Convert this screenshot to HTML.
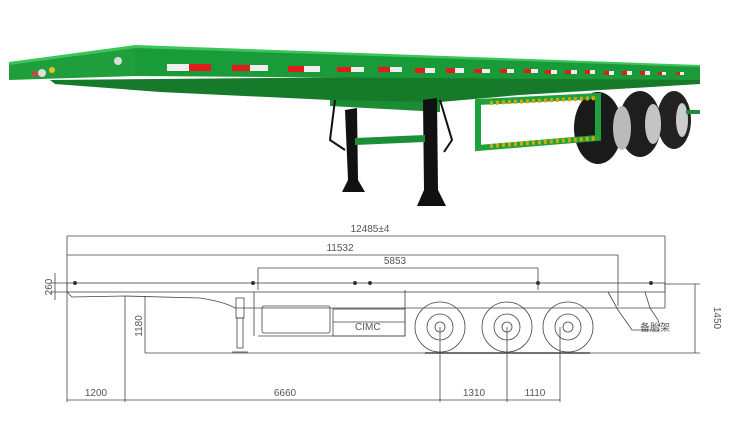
<!DOCTYPE html>
<html><head><style>
html,body{margin:0;padding:0;background:#fff;width:750px;height:434px;overflow:hidden}
svg{display:block}
text{font-family:"Liberation Sans",sans-serif;fill:#555;font-size:10px}
</style></head><body>
<svg width="750" height="434" viewBox="0 0 750 434" xmlns="http://www.w3.org/2000/svg">
<!-- PHOTO -->
<!-- underframe dark -->
<polygon points="50,80 700,74 700,84 520,95 440,102 420,108 330,100 160,92 55,84" fill="#167a2a"/>
<polygon points="330,100 440,102 440,112 330,106" fill="#1c8c34"/>
<!-- wheels -->
<ellipse cx="598" cy="128" rx="24" ry="36" fill="#1a1a1a"/>
<ellipse cx="640" cy="124" rx="21" ry="33" fill="#1e1e1e"/>
<ellipse cx="674" cy="120" rx="17" ry="29" fill="#222"/>
<ellipse cx="622" cy="128" rx="9" ry="22" fill="#bbb"/>
<ellipse cx="653" cy="124" rx="8" ry="20" fill="#c4c4c4"/>
<ellipse cx="682" cy="120" rx="6" ry="17" fill="#ccc"/>
<!-- side face of deck -->
<polygon points="135,46 700,66 700,80 135,76" fill="#1a9b3a"/>
<!-- front face -->
<polygon points="9,63 135,46 135,76 9,80" fill="#1f9f3c"/>
<!-- top edge highlight -->
<polygon points="9,62 135,45 700,65 700,67 135,48 9,65" fill="#3cc55a"/>
<!-- stripes -->
<g>
<rect x="167" y="64" width="22" height="7" fill="#eee"/><rect x="189" y="64" width="22" height="7" fill="#e31b1b"/>
<rect x="232" y="65" width="18" height="6" fill="#e31b1b"/><rect x="250" y="65" width="18" height="6" fill="#eee"/>
<rect x="288" y="66" width="16" height="6" fill="#e31b1b"/><rect x="304" y="66" width="16" height="6" fill="#eee"/>
<rect x="337" y="67" width="14" height="5" fill="#e31b1b"/><rect x="351" y="67" width="13" height="5" fill="#eee"/>
<rect x="378" y="67" width="12" height="5" fill="#e31b1b"/><rect x="390" y="67" width="12" height="5" fill="#eee"/>
<rect x="415" y="68" width="10" height="5" fill="#e31b1b"/><rect x="425" y="68" width="10" height="5" fill="#eee"/>
<rect x="446" y="68" width="9" height="5" fill="#e31b1b"/><rect x="455" y="68" width="9" height="5" fill="#eee"/>
<rect x="474" y="69" width="8" height="4" fill="#e31b1b"/><rect x="482" y="69" width="8" height="4" fill="#eee"/>
<rect x="500" y="69" width="7" height="4" fill="#e31b1b"/><rect x="507" y="69" width="7" height="4" fill="#eee"/>
<rect x="524" y="69" width="7" height="4" fill="#e31b1b"/><rect x="531" y="69" width="7" height="4" fill="#eee"/>
<rect x="545" y="70" width="6" height="4" fill="#e31b1b"/><rect x="551" y="70" width="6" height="4" fill="#eee"/>
<rect x="565" y="70" width="6" height="4" fill="#e31b1b"/><rect x="571" y="70" width="6" height="4" fill="#eee"/>
<rect x="585" y="70" width="5" height="4" fill="#e31b1b"/><rect x="590" y="70" width="5" height="4" fill="#eee"/>
<rect x="604" y="71" width="5" height="4" fill="#e31b1b"/><rect x="609" y="71" width="5" height="4" fill="#eee"/>
<rect x="622" y="71" width="5" height="4" fill="#e31b1b"/><rect x="627" y="71" width="5" height="4" fill="#eee"/>
<rect x="640" y="71" width="5" height="4" fill="#e31b1b"/><rect x="645" y="71" width="5" height="4" fill="#eee"/>
<rect x="658" y="72" width="4" height="3" fill="#e31b1b"/><rect x="662" y="72" width="4" height="3" fill="#eee"/>
<rect x="676" y="72" width="4" height="3" fill="#e31b1b"/><rect x="680" y="72" width="4" height="3" fill="#eee"/>
</g>
<circle cx="118" cy="61" r="4" fill="#ddd"/>
<circle cx="42" cy="73" r="4" fill="#ddd"/><circle cx="52" cy="70" r="3" fill="#f0c020"/><circle cx="35" cy="74" r="3" fill="#c44"/>
<!-- landing legs -->
<polygon points="345,110 357,108 358,180 365,192 342,192 348,180" fill="#111"/>
<polygon points="423,100 437,98 438,190 446,206 417,206 424,190" fill="#111"/>
<path d="M335,100 L330,140 L345,150 M440,100 L452,140 L444,152" stroke="#111" stroke-width="2" fill="none"/>
<polygon points="355,138 425,135 425,142 355,145" fill="#1a8f36"/>
<!-- guard frame -->
<g fill="none" stroke="#1fa23e" stroke-width="6">
<polygon points="478,102 598,96 598,138 478,148"/>
</g>
<line x1="490" y1="103" x2="598" y2="98" stroke="#d4a800" stroke-width="4" stroke-dasharray="3,3"/>
<line x1="490" y1="146" x2="598" y2="138" stroke="#d4a800" stroke-width="4" stroke-dasharray="3,3"/>
<rect x="686" y="110" width="14" height="4" fill="#1a8f36"/>

<!-- DRAWING -->
<g stroke="#444" stroke-width="0.8" fill="none">
<!-- dims -->
<line x1="67" y1="236" x2="665" y2="236"/>
<line x1="67" y1="255" x2="618" y2="255"/>
<line x1="258" y1="268" x2="538" y2="268"/>
<line x1="67" y1="236" x2="67" y2="402"/>
<line x1="665" y1="236" x2="665" y2="290"/>
<line x1="618" y1="255" x2="618" y2="306"/>
<line x1="258" y1="268" x2="258" y2="290"/>
<line x1="538" y1="268" x2="538" y2="290"/>
<!-- deck -->
<rect x="67" y="283" width="598" height="9"/>
<path d="M67,292 L72,297 L125,296 L200,298 Q225,302 235,308"/>
<line x1="235" y1="308" x2="665" y2="308"/>
<line x1="665" y1="292" x2="665" y2="308"/>
<!-- landing leg -->
<rect x="236" y="298" width="8" height="20"/><rect x="237" y="318" width="6" height="30"/><line x1="232" y1="352" x2="248" y2="352"/>
<!-- tank & box -->
<rect x="262" y="306" width="68" height="27" rx="2"/>
<rect x="333" y="309" width="72" height="27"/>
<line x1="333" y1="322" x2="405" y2="322"/>
<line x1="254" y1="292" x2="254" y2="336"/><line x1="258" y1="336" x2="405" y2="336"/>
<line x1="405" y1="290" x2="405" y2="336"/>
<!-- wheels -->
<circle cx="440" cy="327" r="25"/><circle cx="440" cy="327" r="13"/><circle cx="440" cy="327" r="5"/>
<circle cx="507" cy="327" r="25"/><circle cx="507" cy="327" r="13"/><circle cx="507" cy="327" r="5"/>
<circle cx="568" cy="327" r="25"/><circle cx="568" cy="327" r="13"/><circle cx="568" cy="327" r="5"/>
<line x1="425" y1="353" x2="590" y2="353" stroke-width="1.5"/>
<!-- rear -->
<path d="M608,292 L618,310 L632,330 L660,330"/>
<path d="M645,292 L650,308 L658,320 L660,326"/>
<!-- vertical dims -->
<line x1="145" y1="296" x2="145" y2="353"/>
<line x1="145" y1="353" x2="700" y2="353"/>
<line x1="695" y1="284" x2="695" y2="353"/>
<line x1="665" y1="284" x2="700" y2="284"/>
<line x1="55" y1="273" x2="55" y2="300"/>
<line x1="50" y1="283" x2="67" y2="283"/><line x1="50" y1="292" x2="67" y2="292"/>
<!-- bottom dims -->
<line x1="67" y1="400" x2="560" y2="400"/>
<line x1="125" y1="296" x2="125" y2="402"/>
<line x1="440" y1="327" x2="440" y2="402"/>
<line x1="507" y1="327" x2="507" y2="402"/>
<line x1="560" y1="327" x2="560" y2="402"/>
</g>
<g fill="#333">
<circle cx="75" cy="283" r="2"/><circle cx="253" cy="283" r="2"/><circle cx="355" cy="283" r="2"/><circle cx="370" cy="283" r="2"/><circle cx="538" cy="283" r="2"/><circle cx="651" cy="283" r="2"/>
</g>
<text x="370" y="232" text-anchor="middle">12485±4</text>
<text x="340" y="251" text-anchor="middle">11532</text>
<text x="395" y="264" text-anchor="middle">5853</text>
<text x="96" y="396" text-anchor="middle">1200</text>
<text x="285" y="396" text-anchor="middle">6660</text>
<text x="474" y="396" text-anchor="middle">1310</text>
<text x="535" y="396" text-anchor="middle">1110</text>
<text x="355" y="330" font-size="9">CIMC</text>
<text x="640" y="331" font-size="7">备胎架</text>
<text transform="translate(142,326) rotate(-90)" text-anchor="middle">1180</text>
<text transform="translate(52,287) rotate(-90)" text-anchor="middle">260</text>
<text transform="translate(714,318) rotate(90)" text-anchor="middle">1450</text>
</svg>
</body></html>
